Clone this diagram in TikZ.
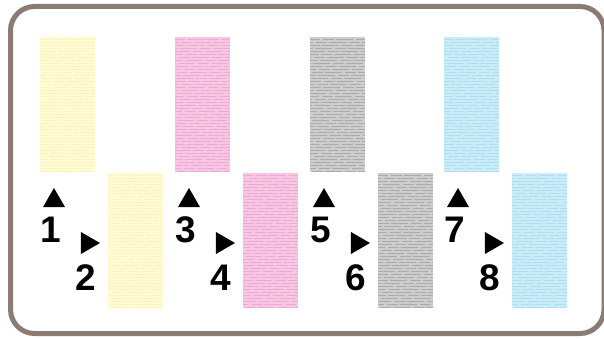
\documentclass[tikz,border=0pt]{standalone}
\usepackage{fontspec}
\setmainfont{Liberation Sans}
\usetikzlibrary{shapes.geometric}
\definecolor{frame}{HTML}{8C7B72}
\definecolor{ylwA}{HTML}{FFFBD2}
\definecolor{ylwB}{HTML}{FAF3C2}
\definecolor{pnkA}{HTML}{F7C6E2}
\definecolor{pnkB}{HTML}{EEAAD3}
\definecolor{gryA}{HTML}{CDCDCD}
\definecolor{gryB}{HTML}{ABABAB}
\definecolor{cynA}{HTML}{CBEBF7}
\definecolor{cynB}{HTML}{AEDEF1}
\tikzset{
  bar/.style 2 args={draw=none, fill=#1, inner sep=0pt, outer sep=0pt,
    minimum width=55pt, minimum height=135pt, anchor=north west,
    path picture={
      \foreach \k in {1,...,45}{
        \draw[#2, line width=0.9pt, dash pattern=on 17pt off 3pt on 11pt off 2pt,
              dash phase=\k*7pt]
          ([yshift=-\k*3pt+1pt]path picture bounding box.north west) --
          ([yshift=-\k*3pt+1pt]path picture bounding box.north east);
      }
    }},
  num/.style={font=\bfseries\fontsize{37}{37}\selectfont, inner sep=0pt, anchor=base},
  uptri/.style={regular polygon, regular polygon sides=3, fill=black,
    inner sep=0pt, minimum size=25.4pt},
  rttri/.style={regular polygon, regular polygon sides=3, fill=black,
    inner sep=0pt, minimum size=25.4pt, shape border rotate=-90}
}
\begin{document}
\begin{tikzpicture}[x=1pt,y=-1pt]
\useasboundingbox (0,0) rectangle (604,339);
\fill[white] (0,0) rectangle (604,339);
\draw[frame, line width=5pt, rounded corners=24pt] (10.5,6.5) rectangle (604,333.5);
% bars
\node[bar={ylwA}{ylwB}] (u1) at (40,37) {};
\node[bar={ylwA}{ylwB}] (l1) at (108,173) {};
\node[bar={pnkA}{pnkB}] (u2) at (175,37) {};
\node[bar={pnkA}{pnkB}] (l2) at (243,173) {};
\node[bar={gryA}{gryB}] (u3) at (310,37) {};
\node[bar={gryA}{gryB}] (l3) at (378,173) {};
\node[bar={cynA}{cynB}] (u4) at (444,37) {};
\node[bar={cynA}{cynB}] (l4) at (512,173) {};
% markers and numbers
\foreach \i/\dx/\a/\b in {1/0/1/2, 2/135/3/4, 3/270/5/6, 4/404/7/8}{
  \node[uptri] (t\a) at (54+\dx,200.7) {};
  \node[num] (n\a) at (50.5+\dx,242) {\a};
  \node[rttri] (t\b) at (87.3+\dx,243) {};
  \node[num] (n\b) at (86+\dx,290) {\b};
}
\end{tikzpicture}
\end{document}
